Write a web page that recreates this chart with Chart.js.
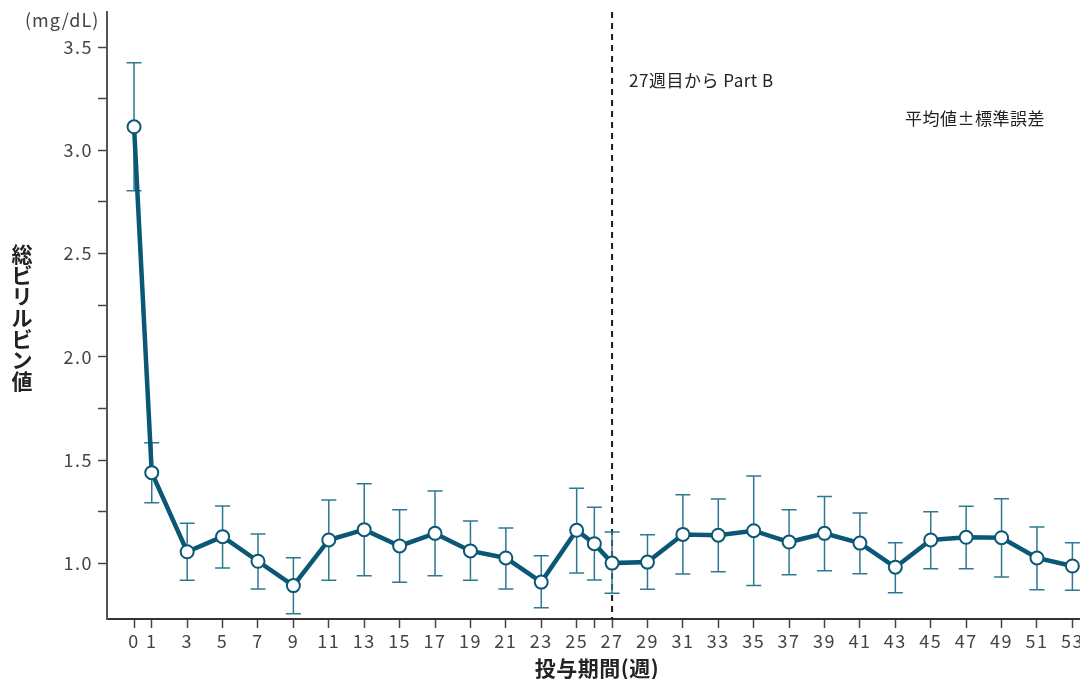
<!DOCTYPE html>
<html><head><meta charset="utf-8">
<script src="https://cdn.jsdelivr.net/npm/chart.js@4.4.0/dist/chart.umd.min.js"></script>
<style>
html,body{margin:0;padding:0;background:#fff;overflow:hidden;width:1080px;height:679px;}
#wrap{position:relative;width:1100px;height:679px;}
canvas{display:block;}
</style></head><body>
<div id="wrap"><canvas id="c" width="1100" height="679"></canvas></div>
<script>
// ---- data ----
const weeks = [0,1,3,5,7,9,11,13,15,17,19,21,23,25,26,27,29,31,33,35,37,39,41,43,45,47,49,51,53];
const meanValues  = [3.114,1.439,1.056,1.129,1.010,0.892,1.113,1.163,1.084,1.145,1.060,1.026,0.909,1.160,1.095,1.001,1.006,1.140,1.136,1.158,1.103,1.145,1.098,0.981,1.113,1.126,1.124,1.026,0.987];
const upperValues = [3.424,1.584,1.194,1.277,1.142,1.027,1.307,1.385,1.260,1.350,1.205,1.171,1.037,1.363,1.271,1.152,1.138,1.332,1.311,1.423,1.260,1.323,1.244,1.100,1.250,1.276,1.313,1.176,1.100];
const lowerValues = [2.804,1.293,0.918,0.977,0.876,0.756,0.918,0.940,0.908,0.940,0.918,0.876,0.785,0.953,0.919,0.855,0.874,0.948,0.959,0.893,0.945,0.964,0.950,0.858,0.974,0.974,0.934,0.872,0.869];
const xTickValues = weeks;
const xUnlabeled = [26];
const yTickValues = [1.0,1.25,1.5,1.75,2.0,2.25,2.5,2.75,3.0,3.25,3.5];
const yLabeledStep = 0.5;
const partBWeek = 27;
const partBText = '27週目から Part B';
const noteText = '平均値±標準誤差';
const yUnit = '(mg/dL)';
const yTitle = '総ビリルビン値';
const xTitle = '投与期間(週)';

const FONT = '"Noto Sans CJK JP","Noto Sans",sans-serif';
const LINE = '#0b5876';
const ERR = '#2f7893';

const extras = {
  id: 'extras',
  beforeDraw(chart) {
    chart.ctx.letterSpacing = '1.5px';
  },
  beforeDatasetsDraw(chart) {
    const {ctx, chartArea, scales:{x, y}} = chart;
    ctx.save();
    const px = x.getPixelForValue(partBWeek);
    ctx.strokeStyle = '#1a1a1a';
    ctx.lineWidth = 2;
    ctx.setLineDash([6,5]);
    ctx.beginPath();
    ctx.moveTo(px, chartArea.top);
    ctx.lineTo(px, chartArea.bottom);
    ctx.stroke();
    ctx.setLineDash([]);
    ctx.strokeStyle = ERR;
    ctx.lineWidth = 1.5;
    weeks.forEach((w, i) => {
      const cx = x.getPixelForValue(w);
      const yt = y.getPixelForValue(upperValues[i]);
      const yb = y.getPixelForValue(lowerValues[i]);
      ctx.beginPath();
      ctx.moveTo(cx, yt); ctx.lineTo(cx, yb);
      ctx.moveTo(cx-7.5, yt); ctx.lineTo(cx+7.5, yt);
      ctx.moveTo(cx-7.5, yb); ctx.lineTo(cx+7.5, yb);
      ctx.stroke();
    });
    ctx.restore();
  },
  afterDraw(chart) {
    const {ctx, scales:{x}} = chart;
    ctx.save();
    ctx.letterSpacing = '0.5px';
    ctx.fillStyle = '#222';
    ctx.textBaseline = 'middle';
    ctx.font = '17px ' + FONT;
    ctx.textAlign = 'left';
    ctx.fillText(partBText, x.getPixelForValue(partBWeek) + 17, 81);
    ctx.fillText(noteText, 905, 119);
    ctx.fillStyle = '#444';
    ctx.letterSpacing = '1px';
    ctx.font = '18px ' + FONT;
    ctx.fillText(yUnit, 25, 20);
    ctx.letterSpacing = '0px';
    ctx.fillStyle = '#222';
    ctx.font = 'bold 21px ' + FONT;
    ctx.textAlign = 'center';
    Array.from(yTitle).forEach((ch, i) => ctx.fillText(ch, 22, 254 + i*21.25));
    ctx.letterSpacing = '0.5px';
    ctx.fillText(xTitle, 597, 668);
    ctx.restore();
  }
};

new Chart(document.getElementById('c'), {
  type: 'scatter',
  data: {
    datasets: [{
      data: weeks.map((w, i) => ({x: w, y: meanValues[i]})),
      showLine: true,
      borderColor: LINE,
      borderWidth: 4.5,
      pointRadius: 6.5,
      pointBorderWidth: 2,
      pointBackgroundColor: '#fff',
      pointBorderColor: LINE,
      tension: 0,
      clip: false
    }]
  },
  options: {
    responsive: false,
    animation: false,
    events: [],
    layout: {padding: {top: 12, right: 3, left: 0, bottom: 0}},
    plugins: {legend: {display: false}, tooltip: {enabled: false}},
    scales: {
      x: {
        type: 'linear',
        min: -1.528,
        max: 54.08,
        afterFit(s) { s.height = 60; },
        afterBuildTicks(s) { s.ticks = xTickValues.map(v => ({value: v})); },
        ticks: {
          autoSkip: false, maxRotation: 0, padding: 2,
          color: '#444',
          font: {family: FONT, size: 18},
          callback: v => xUnlabeled.includes(v) ? '' : String(v)
        },
        grid: {drawOnChartArea: false, drawTicks: true, tickLength: 9, color: '#444', tickWidth: 1.5},
        border: {display: true, color: '#333', width: 2}
      },
      y: {
        type: 'linear',
        min: 0.7303,
        max: 3.670,
        afterFit(s) { s.width = 107; s.paddingTop = 0; s.paddingBottom = 0; },
        afterBuildTicks(s) { s.ticks = yTickValues.map(v => ({value: v})); },
        ticks: {
          autoSkip: false, padding: 5,
          color: '#444',
          font: {family: FONT, size: 18},
          callback: v => (Math.abs(v / yLabeledStep - Math.round(v / yLabeledStep)) < 1e-6) ? v.toFixed(1) : ''
        },
        grid: {drawOnChartArea: false, drawTicks: true, tickLength: 9, color: '#444', tickWidth: 1.5},
        border: {display: true, color: '#555', width: 2}
      }
    }
  },
  plugins: [extras]
});
</script>
</body></html>
